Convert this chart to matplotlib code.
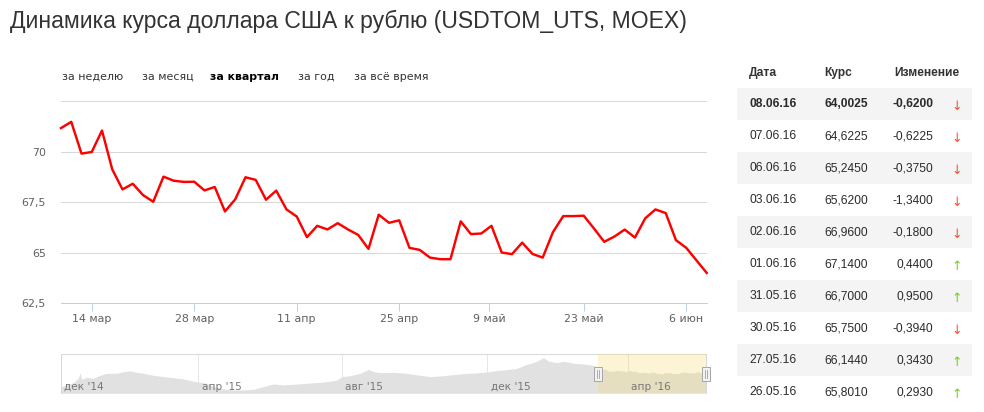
import matplotlib
matplotlib.use('Agg')
import matplotlib.pyplot as plt
from matplotlib.patches import Rectangle
import matplotlib.transforms as mtransforms

W, H = 984, 412

title = "Динамика курса доллара США к рублю (USDTOM_UTS, MOEX)"
range_buttons = ["за неделю", "за месяц", "за квартал", "за год", "за всё время"]
selected_button = "за квартал"

# Daily USD/RUB rate, 9 Mar 2016 .. 8 Jun 2016 (trading days)
rates = [71.16, 71.47, 69.90, 69.98, 71.04, 69.12, 68.13, 68.41, 67.85, 67.52,
         68.76, 68.56, 68.50, 68.51, 68.08, 68.25, 67.04, 67.64, 68.73, 68.60,
         67.62, 68.07, 67.14, 66.79, 65.77, 66.33, 66.15, 66.46, 66.15, 65.88,
         65.19, 66.88, 66.48, 66.60, 65.24, 65.14, 64.76, 64.68, 64.68, 66.55,
         65.92, 65.95, 66.33, 65.01, 64.93, 65.50, 64.94, 64.76, 66.02, 66.81,
         66.81, 66.83, 66.20, 65.54, 65.801, 66.144, 65.75, 66.70, 67.14, 66.96,
         65.62, 65.245, 64.6225, 64.0025]

x_tick_pos = [3, 13, 23, 33, 41.75, 51, 61]
x_tick_labels = ["14 мар", "28 мар", "11 апр", "25 апр", "9 май", "23 май", "6 июн"]
y_tick_vals = [62.5, 65, 67.5, 70, 72.5]
y_tick_labels = ["62,5", "65", "67,5", "70", ""]

# Table
table_headers = ["Дата", "Курс", "Изменение"]
table_dates = ["08.06.16", "07.06.16", "06.06.16", "03.06.16", "02.06.16",
               "01.06.16", "31.05.16", "30.05.16", "27.05.16", "26.05.16"]
table_rates = [64.0025, 64.6225, 65.2450, 65.6200, 66.9600,
               67.1400, 66.7000, 65.7500, 66.1440, 65.8010]
table_changes = [-0.6200, -0.6225, -0.3750, -1.3400, -0.1800,
                 0.4400, 0.9500, -0.3940, 0.3430, 0.2930]

# Navigator (full history, trading-day index from Dec 2014)
nav_idx = [0, 7.2, 10.1, 11.1, 12.1, 15, 18.9, 22.8, 26.7, 32.6, 36.5, 40.4, 44.3,
           48.2, 54, 59.9, 65.7, 71.6, 77.4, 81.3, 85.2, 89.1, 95, 100.8, 106.6,
           112.5, 118.3, 124.2, 130, 135.9, 143.7, 151.5, 157.4, 161.3, 164.2,
           169.1, 174.9, 179.8, 182.7, 186.6, 194.4, 202.2, 210, 215.9, 221.7,
           229.5, 237.3, 243.2, 249, 254.9, 260.7, 266.6, 272.4, 277.3, 282.1,
           285.1, 290, 293.8, 299.7, 305.5, 311.4]
nav_vals = [48.6, 53.6, 59.0, 66.1, 57.75, 60.25, 59.0, 62.75, 65.25, 65.25, 67.3,
            68.2, 66.5, 65.25, 62.75, 61.1, 59.8, 58.2, 55.25, 54.0, 52.75, 48.6,
            45.7, 44.4, 44.4, 45.25, 48.6, 51.9, 50.7, 51.5, 52.75, 54.0, 55.25,
            56.9, 61.1, 62.3, 65.25, 70.25, 67.3, 66.1, 66.5, 65.25, 62.75, 61.1,
            61.9, 63.6, 65.25, 65.7, 66.9, 68.6, 69.8, 71.5, 76.5, 79.4, 84.8,
            80.25, 78.6, 80.25, 77.75, 76.9, 75.25]
nav_sel_start = 314
nav_tick_pos = [0, 80.3, 164.2, 249, 331.3]
nav_tick_labels = ["дек '14", "апр '15", "авг '15", "дек '15", "апр '16"]

PX = 0.72  # points per pixel at dpi 100

def fx(px):
    return px / W

def fy(py):
    return 1 - py / H

fig = plt.figure(figsize=(W / 100, H / 100), dpi=100)
fig.patch.set_facecolor('white')

# Title
fig.text(fx(10), fy(21), title, fontsize=23 * PX, color='#333333',
         family='Liberation Sans', ha='left', va='center')

# Range buttons
btn_x = [62, 141.5, 210, 297.7, 353.5]
for bx, lab in zip(btn_x, range_buttons):
    sel = lab == selected_button
    fig.text(fx(bx), fy(77), lab, fontsize=11 * PX, family='DejaVu Sans',
             color='black' if sel else '#333333',
             fontweight='bold' if sel else 'normal', ha='left', va='center')

# Main chart
ax = fig.add_axes([fx(61), fy(303.3), fx(706.7) - fx(61), fy(101) - fy(303.3)])
xs = list(range(len(rates)))
ax.plot(xs, rates, color='#ff0000', lw=1.75, solid_joinstyle='round', zorder=3, clip_on=False)
ax.set_xlim(0, len(rates) - 1)
ax.set_ylim(62.5, 72.5)
ax.set_yticks(y_tick_vals)
ax.set_yticklabels(y_tick_labels)
ax.set_xticks(x_tick_pos)
ax.set_xticklabels(x_tick_labels)
for s in ['top', 'left', 'right']:
    ax.spines[s].set_visible(False)
ax.spines['bottom'].set_color('#c0d0e0')
ax.spines['bottom'].set_linewidth(1 * PX)
ax.grid(axis='y', color='#d8d8d8', lw=1 * PX)
ax.set_axisbelow(True)
ax.tick_params(axis='y', length=0, pad=15 * PX, labelsize=11 * PX, labelcolor='#606060')
ax.tick_params(axis='x', length=8 * PX, width=1 * PX, color='#c0d0e0', pad=2,
               labelsize=11 * PX, labelcolor='#606060')
for t in ax.get_xticklabels() + ax.get_yticklabels():
    t.set_family('DejaVu Sans')

# Navigator
nav = fig.add_axes([fx(61), fy(393.3), fx(706) - fx(61), fy(354.3) - fy(393.3)])
full_idx = nav_idx + [nav_sel_start + i for i in range(len(rates))]
full_vals = nav_vals + rates
nav_ymin, nav_ymax = 40.25, 89
nav.fill_between(full_idx, full_vals, nav_ymin, color='#e1e1e1', lw=0, zorder=2)
nav.set_xlim(0, full_idx[-1])
nav.set_ylim(nav_ymin, nav_ymax)
nav.set_xticks([])
nav.set_yticks([])
for p in nav_tick_pos:
    nav.axvline(p, color='#e6e6e6', lw=1 * PX, zorder=1)
for p, lab in zip(nav_tick_pos, nav_tick_labels):
    nav.annotate(lab, xy=(p, 0.17), xycoords=('data', 'axes fraction'),
                 xytext=(3.5 * PX, 0), textcoords='offset points',
                 fontsize=10.5 * PX, color='#777777', family='DejaVu Sans',
                 ha='left', va='center', zorder=5)
nav.axvspan(nav_sel_start, full_idx[-1], color='#f5d96b', alpha=0.28, lw=0, zorder=4)
for s in ['top', 'left', 'right']:
    nav.spines[s].set_color('#d8d8d8')
    nav.spines[s].set_linewidth(1 * PX)
nav.spines['bottom'].set_visible(False)
blend = mtransforms.blended_transform_factory(nav.transData, nav.transAxes)
px_per_idx = (706 - 61) / full_idx[-1]
hw = 8 / px_per_idx
for hx in [nav_sel_start, full_idx[-1]]:
    r = Rectangle((hx - hw / 2, 0.32), hw, 0.35, transform=blend,
                  facecolor='#f2f2f2', edgecolor='#a8a8a8', lw=1 * PX,
                  zorder=6, clip_on=False)
    nav.add_patch(r)
    for d in (-1.2, 1.2):
        nav.plot([hx + d / px_per_idx] * 2, [0.4, 0.59], transform=blend,
                 color='#a0a0a0', lw=0.8 * PX, zorder=7, clip_on=False)

# Table
row_y0 = 104.3
row_h = 32
for i in range(len(table_dates)):
    cy = row_y0 + row_h * i
    if i % 2 == 0:
        fig.add_artist(Rectangle((fx(736.7), fy(cy + 16)), fx(971.7) - fx(736.7),
                                 row_h / H, transform=fig.transFigure,
                                 facecolor='#f4f4f4', edgecolor='none', zorder=0))
    bold = 'bold' if i == 0 else 'normal'
    kw = dict(fontsize=12 * PX, family='Liberation Sans', color='#2b2b2b',
              fontweight=bold, va='center')
    fig.text(fx(749.3), fy(cy), table_dates[i], ha='left', **kw)
    fig.text(fx(824.3), fy(cy), f"{table_rates[i]:.4f}".replace('.', ','), ha='left', **kw)
    fig.text(fx(933.3), fy(cy), f"{table_changes[i]:.4f}".replace('.', ','), ha='right', **kw)
    up = table_changes[i] > 0
    fig.text(fx(956.7), fy(cy + 1.8), "↑" if up else "↓", ha='center', va='center',
             fontsize=12.5 * PX, family='DejaVu Sans',
             color='#77cc22' if up else '#ff4a2a')

hkw = dict(fontsize=12 * PX, family='Liberation Sans', color='#333333',
           fontweight='bold', va='center')
fig.text(fx(749.3), fy(72.7), table_headers[0], ha='left', **hkw)
fig.text(fx(824.3), fy(72.7), table_headers[1], ha='left', **hkw)
fig.text(fx(959.3), fy(72.7), table_headers[2], ha='right', **hkw)

fig.savefig('out.png', dpi=100, facecolor='white')
